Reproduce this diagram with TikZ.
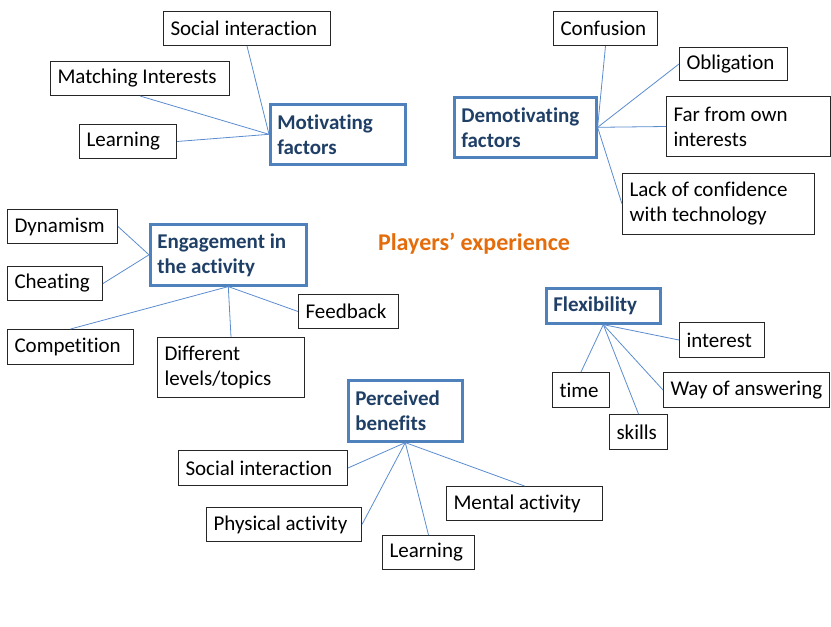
\documentclass[tikz,border=0pt]{standalone}
\usepackage{fontspec}
\setmainfont{Carlito}[Ligatures=NoCommon]
\begin{document}
\definecolor{hubline}{HTML}{4F81BD}
\definecolor{hubtext}{HTML}{1F3F66}
\definecolor{linkblue}{HTML}{5B8CCF}
\definecolor{leafline}{HTML}{262626}
\definecolor{titleorange}{HTML}{E46C0A}
\begin{tikzpicture}[x=1pt,y=-1pt,
  every node/.style={anchor=north west, align=flush left, inner xsep=7pt, inner ysep=0pt,
    font=\fontsize{21}{25}\selectfont},
  leaf/.style={draw=leafline, line width=1pt, text=black},
  hub/.style={draw=hubline, line width=2.6pt, text=hubtext, font=\fontsize{21}{25}\selectfont\bfseries},
  link/.style={draw=linkblue, line width=0.8pt},
  title/.style={anchor=center, text=titleorange, font=\fontsize{24}{28}\selectfont\bfseries}
]
\useasboundingbox (0,0) rectangle (831,627);

% Motivating factors
\node[hub, minimum width=135pt, minimum height=60pt, text width=121pt] (mot) at (269,103) {Motivating\\factors};
\node[leaf, minimum width=167pt, minimum height=34pt, text width=153pt] (soc1) at (163,11) {Social interaction};
\node[leaf, minimum width=179pt, minimum height=34pt, text width=165pt] (match) at (50,61) {Matching Interests};
\node[leaf, minimum width=97pt, minimum height=34pt, text width=83pt] (learn1) at (79,124) {Learning};
\draw[link] (soc1.south) -- (mot.west);
\draw[link] (match.south) -- (mot.west);
\draw[link] (learn1.east) -- (mot.west);

% Demotivating factors
\node[hub, minimum width=142pt, minimum height=60pt, text width=128pt] (demot) at (453,96) {Demotivating\\factors};
\node[leaf, minimum width=104pt, minimum height=34pt, text width=90pt] (conf) at (553,11) {Confusion};
\node[leaf, minimum width=108pt, minimum height=33pt, text width=94pt] (oblig) at (679,47) {Obligation};
\node[leaf, minimum width=164pt, minimum height=60pt, text width=150pt] (far) at (666,96) {Far from own\\interests};
\node[leaf, minimum width=192pt, minimum height=61pt, text width=178pt] (lack) at (622,173) {Lack of confidence\\with technology};
\draw[link] (conf.south) -- (demot.east);
\draw[link] (oblig.west) -- (demot.east);
\draw[link] (far.west) -- (demot.east);
\draw[link] (lack.west) -- (demot.east);

% Engagement in the activity
\node[hub, minimum width=156pt, minimum height=61pt, text width=142pt] (engage) at (149,223) {Engagement in\\the activity};
\node[leaf, minimum width=110pt, minimum height=34pt, text width=96pt] (dyn) at (7,209) {Dynamism};
\node[leaf, minimum width=95pt, minimum height=34pt, text width=81pt] (cheat) at (7,266) {Cheating};
\node[leaf, minimum width=100pt, minimum height=34pt, text width=86pt] (feed) at (298,294) {Feedback};
\node[leaf, minimum width=126pt, minimum height=35pt, text width=112pt] (comp) at (7,329) {Competition};
\node[leaf, minimum width=147pt, minimum height=60pt, text width=133pt] (diff) at (157,337) {Different\\levels/topics};
\draw[link] (dyn.east) -- (engage.west);
\draw[link] (cheat.east) -- (engage.west);
\draw[link] (comp.north) -- (engage.south);
\draw[link] (diff.north) -- (engage.south);
\draw[link] (feed.west) -- (engage.south);

% Title
\node[title] (ttl) at (474,244) {Players’ experience};

% Flexibility
\node[hub, minimum width=114pt, minimum height=35pt, text width=100pt] (flex) at (545,287) {Flexibility};
\node[leaf, minimum width=85pt, minimum height=35pt, text width=71pt] (interest) at (679,322) {interest};
\node[leaf, minimum width=57pt, minimum height=35pt, text width=43pt] (time) at (552,372) {time};
\node[leaf, minimum width=166pt, minimum height=35pt, inner xsep=5pt, text width=156pt] (way) at (663,372) {\hspace{2pt}Way of answering};
\node[leaf, minimum width=58pt, minimum height=35pt, text width=44pt] (skills) at (609,414) {skills};
\draw[link] (flex.south) -- (interest.west);
\draw[link] (flex.south) -- (time.north);
\draw[link] (flex.south) -- (skills.north);
\draw[link] (flex.south) -- (way.west);

% Perceived benefits
\node[hub, minimum width=114pt, minimum height=61pt, text width=100pt] (perc) at (347,379) {Perceived\\benefits};
\node[leaf, minimum width=169pt, minimum height=35pt, text width=155pt] (soc2) at (178,450) {Social interaction};
\node[leaf, minimum width=155pt, minimum height=34pt, text width=141pt] (phys) at (206,507) {Physical activity};
\node[leaf, minimum width=92pt, minimum height=34pt, text width=78pt] (learn2) at (382,535) {Learning};
\node[leaf, minimum width=156pt, minimum height=34pt, text width=142pt] (mental) at (446,486) {Mental activity};
\draw[link] (perc.south) -- (soc2.east);
\draw[link] (perc.south) -- (phys.east);
\draw[link] (perc.south) -- (learn2.north);
\draw[link] (perc.south) -- (mental.north);
\end{tikzpicture}
\end{document}
